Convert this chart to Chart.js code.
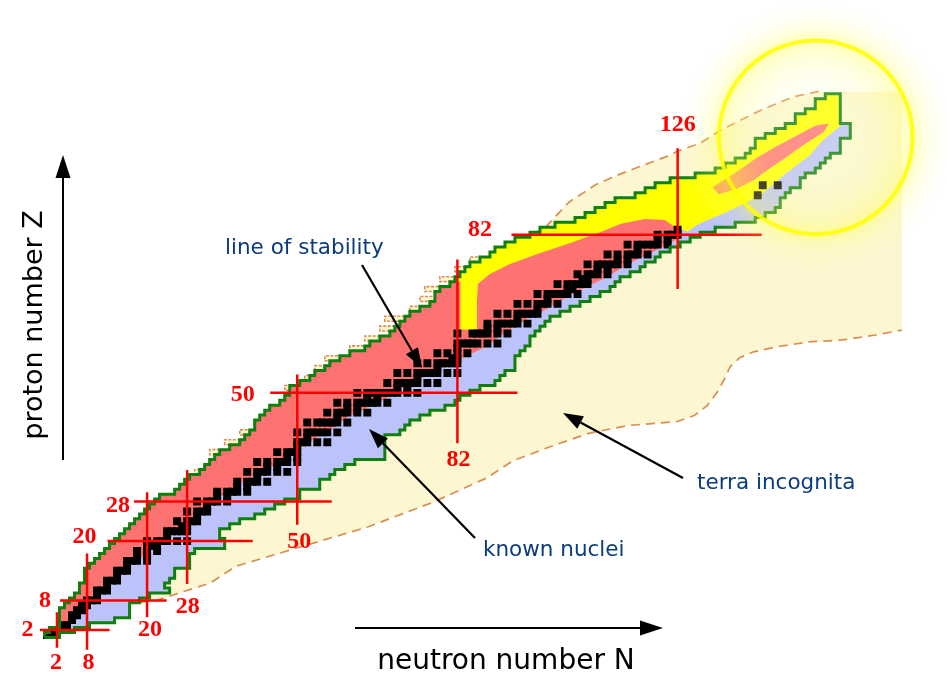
<!DOCTYPE html>
<html>
<head>
<meta charset="utf-8">
<title>Chart of nuclides</title>
<script src="https://cdn.jsdelivr.net/npm/chart.js@4.4.1/dist/chart.umd.min.js"></script>
<style>
  html, body { margin: 0; padding: 0; background: #ffffff; }
  #wrap { width: 947px; height: 678px; }
  canvas { display: block; }
</style>
</head>
<body>
<div id="wrap"><canvas id="chart" width="947" height="678" style="width:947px;height:678px"></canvas></div>
<script>
// ---------------------------------------------------------------------------
// Chart of nuclides: neutron number N along x, proton number Z along y.
// ---------------------------------------------------------------------------

// Rows run from Z = 1 to Z = 110.
const FIRST_Z = 1;

// Lightest known isotope of each element (smallest N), Z = 1 ... 110
const knownMinN = [
  0, 1, 3, 3, 3, 3, 4, 5, 6, 7,
  7, 8, 8, 8, 9, 10, 11, 12, 13, 14,
  15, 16, 17, 18, 19, 20, 21, 22, 23, 26,
  27, 28, 29, 31, 32, 33, 34, 35, 37, 39,
  40, 41, 42, 42, 43, 44, 45, 47, 48, 49,
  49, 51, 53, 54, 56, 57, 59, 61, 64, 65,
  67, 69, 70, 71, 72, 73, 75, 77, 78, 78,
  79, 81, 82, 83, 84, 85, 87, 89, 90, 92,
  94, 97, 99, 102, 106, 108, 110, 112, 114, 118,
  120, 122, 125, 130, 134, 136, 138, 140, 141, 142,
  142, 144, 146, 148, 150, 150, 152, 154, 154, 156
];

// Heaviest known isotope of each element (largest N), Z = 1 ... 110
const knownMaxN = [
  2, 5, 8, 13, 16, 16, 16, 18, 20, 24,
  23, 24, 25, 25, 28, 28, 28, 29, 35, 35,
  34, 34, 36, 38, 41, 43, 45, 47, 50, 50,
  54, 54, 56, 57, 59, 61, 67, 67, 67, 67,
  67, 70, 71, 72, 74, 76, 79, 81, 82, 84,
  86, 89, 90, 91, 93, 93, 93, 94, 95, 96,
  96, 97, 98, 99, 100, 102, 104, 106, 108, 110,
  112, 113, 114, 116, 118, 119, 121, 122, 124, 126,
  128, 130, 133, 137, 141, 143, 145, 146, 146, 147,
  148, 150, 150, 151, 153, 154, 155, 156, 158, 158,
  158, 160, 160, 160, 158, 158, 158, 158, 158, 158
];

// Rows where the predicted proton drip line lies beyond the known nuclei,
// and by how many neutrons
const dripRowsZ  = [34, 38, 40, 42, 51, 53, 55, 57, 59, 61, 63, 65, 67, 69, 71, 73, 75, 77];
const dripExtraN = [ 1,  2,  3,  2,  1,  1,  2,  3,  3,  3,  3,  4,  2,  3,  3,  3,  2,  2];

// Stable and primordial nuclides: element Z and its stable neutron numbers
const stableZ = [
  1, 2, 3, 4, 5, 6, 7, 8, 9, 10,
  11, 12, 13, 14, 15, 16, 17, 18, 19, 20,
  21, 22, 23, 24, 25, 26, 27, 28, 29, 30,
  31, 32, 33, 34, 35, 36, 37, 38, 39, 40,
  41, 42, 44, 45, 46, 47, 48, 49, 50, 51,
  52, 53, 54, 55, 56, 57, 58, 59, 60, 62,
  63, 64, 65, 66, 67, 68, 69, 70, 71, 72,
  73, 74, 75, 76, 77, 78, 79, 80, 81, 82,
  83, 90, 92
];
const stableN = [
  [0, 1], [1, 2], [3, 4], [5], [5, 6], [6, 7], [7, 8], [8, 9, 10], [10], [10, 11, 12],
  [12], [12, 13, 14], [14], [14, 15, 16], [16], [16, 17, 18, 20], [18, 20], [18, 20, 22], [20, 21, 22], [20, 22, 23, 24, 26, 28],
  [24], [24, 25, 26, 27, 28], [27, 28], [26, 28, 29, 30], [30], [28, 30, 31, 32], [32], [30, 32, 33, 34, 36], [34, 36], [34, 36, 37, 38, 40],
  [38, 40], [38, 40, 41, 42, 44], [42], [40, 42, 43, 44, 46, 48], [44, 46], [42, 44, 46, 47, 48, 50], [48, 50], [46, 48, 49, 50], [50], [50, 51, 52, 54, 56],
  [52], [50, 52, 53, 54, 55, 56, 58], [52, 54, 55, 56, 57, 58, 60], [58], [56, 58, 59, 60, 62, 64], [60, 62], [58, 60, 62, 63, 64, 65, 66, 68], [64, 66], [62, 64, 65, 66, 67, 68, 69, 70, 72, 74], [70, 72],
  [68, 70, 71, 72, 73, 74, 76, 78], [74], [70, 72, 74, 75, 76, 77, 78, 80, 82], [78], [74, 76, 78, 79, 80, 81, 82], [81, 82], [78, 80, 82, 84], [82], [82, 83, 84, 85, 86, 88, 90], [82, 85, 86, 87, 88, 90, 92],
  [88, 90], [88, 90, 91, 92, 93, 94, 96], [94], [90, 92, 94, 95, 96, 97, 98], [98], [94, 96, 98, 99, 100, 102], [100], [98, 100, 101, 102, 103, 104, 106], [104, 105], [102, 104, 105, 106, 107, 108],
  [107, 108], [106, 108, 109, 110, 112], [110, 112], [108, 110, 111, 112, 113, 114, 116], [114, 116], [112, 114, 116, 117, 118, 120], [118], [116, 118, 119, 120, 121, 122, 124], [122, 124], [122, 124, 125, 126],
  [126], [142], [143, 146]
];

// Border between proton-rich (β+) and neutron-rich (β−) nuclei along the valley
const valleyN = [126.5, 124, 120, 116, 112, 108, 104, 100, 96, 92, 88, 84, 80, 76, 72, 68, 64, 60, 56, 52, 48, 44, 40, 36, 32, 28, 24, 20, 16, 12, 8.5, 5.5, 2.5, 0.5];
const valleyZ = [81.5, 80, 78, 76, 73.5, 71.5, 69.5, 67, 65, 62.5, 59.5, 57.5, 55.5, 53.5, 51.5, 49, 47, 45, 42, 40, 36.5, 34.5, 32.5, 30, 27, 24, 21, 17.5, 14.5, 10.5, 7.5, 4.5, 1.5, 0.5];

// Alpha-decay (heavy) region: border towards the β− side beyond N = 126
const alphaBetaN = [158.5, 155, 152.2, 147.7, 142.4, 135.8, 132.5, 129.9, 128];
const alphaBetaZ = [104, 101.1, 97.9, 94.5, 89.9, 86.6, 85.2, 84, 82.6];
// Alpha-decay region: lower border towards the β+ side
const alphaLowN = [125.4, 123.4, 119.5, 114.7, 110.8, 104.3, 97.7, 92.4, 88.4, 86.1, 85.9, 85.9, 82.6, 82.6];
const alphaLowZ = [83.6, 85, 85.2, 84.2, 82.6, 80.2, 78, 76, 74, 72, 68.1, 62.7, 62.8, 72.5];

// Fission band inside the superheavy region
const fissionN = [133.0, 138.2, 141.6, 145.6, 150.2, 153.6, 156.2, 155.2, 151.2, 147.2, 143.8, 141.2, 137.6, 134.2];
const fissionZ = [91.6, 95.0, 97.4, 99.8, 102.3, 104.1, 104.5, 102.8, 100.2, 97.3, 95.0, 93.0, 91.2, 90.2];

// Terra incognita: neutron-rich limit and the limit above the heavy nuclei
const terraLowN = [18.6, 21.9, 26.7, 32.6, 37.7, 50.9, 64.2, 77.2, 87.9, 93, 99.7, 108.2, 116.1, 126, 129.3, 131.9, 133.9, 135.3, 136.5, 138.4, 141.2, 145.7, 152.2, 158.9, 165.5, 170.8];
const terraLowZ = [7.6, 8, 9.6, 11.5, 14.9, 18.9, 22.9, 27.9, 32.8, 36.2, 38.8, 41.8, 43.4, 44.2, 45.4, 47.4, 50.1, 52.7, 55.3, 57.1, 58.3, 59.3, 60.3, 60.7, 61.7, 62.7];
const terraEdgeN = [170.8, 170.8];
const terraEdgeZ = [62.7, 111];
const terraTopN = [154.2, 149.1, 142.4, 134.5, 130.5, 126, 124, 118.7, 114.1, 109.6, 104.3, 99.3];
const terraTopZ = [111, 109.9, 107.1, 103.1, 100.5, 98.9, 97.9, 95.9, 94.1, 92.1, 88.6, 83.2];

// Magic numbers and the stretch each marker line covers
const magicN = [2, 8, 20, 28, 50, 82, 126];
const magicNSpanZ = [[-1.6, 5.6], [-2, 17.5], [4.6, 29.9], [11.3, 34.4], [23.3, 53.7], [39.8, 77], [71, 99.5]];
const magicZ = [2, 8, 20, 28, 50, 82];
const magicZSpanN = [[-1.4, 12.5], [2.6, 23.9], [12.1, 41.1], [17.4, 56.9], [44.6, 94], [92.8, 142.8]];

// ---------------------------------------------------------------------------
// Layout (label anchors in N/Z units, annotation geometry in pixels)
// ---------------------------------------------------------------------------
const magicNLabelAt = [[1.8, -4.6], [8.3, -4.6], [20.6, 2], [28.1, 6.8], [50.4, 19.9], [82.2, 36.4], [126, 104.3]];
const magicZLabelAt = [[-3.9, 2], [-0.4, 8], [7.5, 20.9], [14.2, 27.1], [39.1, 49.6], [86.5, 83]];
const glowCenter = [153.6, 101.7];
const glowRadiusN = 19.35;
const notes = [
  { text: 'line of stability', x: 225, y: 254, from: [362, 265], to: [422, 368] },
  { text: 'known nuclei',      x: 483, y: 556, from: [475, 538], to: [369, 429] },
  { text: 'terra incognita',   x: 697, y: 489, from: [683, 478], to: [563, 413] }
];

const COLORS = {
  terra: '#fcf7d1',
  dashed: '#d98e52',
  betaMinus: '#bcc2fa',
  betaPlus: '#ff7272',
  alpha: '#ffff00',
  outline: '#0f7f0f',
  magic: '#ff0000',
  note: '#0b3d7c'
};

// ---------------------------------------------------------------------------
// Geometry helpers
// ---------------------------------------------------------------------------
const zip = (ns, zs) => ns.map((n, i) => ({ x: n, y: zs[i] }));

// Left (proton-rich) staircase edge, ascending in Z
function leftSteps(arr, zFrom, zTo) {
  const pts = [];
  for (let z = zFrom; z <= zTo; z++) {
    const n = arr[z - FIRST_Z] - 0.5;
    pts.push({ x: n, y: z - 0.5 }, { x: n, y: z + 0.5 });
  }
  return pts;
}
// Right (neutron-rich) staircase edge, descending in Z
function rightSteps(arr, zFrom, zTo) {
  const pts = [];
  for (let z = zFrom; z >= zTo; z--) {
    const n = arr[z - FIRST_Z] + 0.5;
    pts.push({ x: n, y: z + 0.5 }, { x: n, y: z - 0.5 });
  }
  return pts;
}
const closed = pts => pts.concat([pts[0]]);

const LAST_Z = FIRST_Z + knownMinN.length - 1;

const dripN = knownMinN.slice();
dripRowsZ.forEach((z, i) => { dripN[z - FIRST_Z] -= dripExtraN[i]; });

const knownShape = closed([...leftSteps(knownMinN, FIRST_Z, LAST_Z), ...rightSteps(knownMaxN, LAST_Z, FIRST_Z)]);
const betaPlusShape = closed([
  ...leftSteps(knownMinN, FIRST_Z, 86),
  { x: 124, y: 86.5 }, { x: 126.5, y: 84 },
  ...zip(valleyN, valleyZ)
]);
const alphaShape = closed([
  ...leftSteps(knownMinN, 73, LAST_Z),
  ...rightSteps(knownMaxN, LAST_Z, 105),
  ...zip(alphaBetaN, alphaBetaZ),
  ...zip(alphaLowN, alphaLowZ)
]);
const fissionShape = closed(zip(fissionN, fissionZ));
const terraShape = closed([
  ...zip(terraLowN, terraLowZ),
  ...zip(terraEdgeN, terraEdgeZ),
  ...zip(terraTopN, terraTopZ)
]);
const dripSteps = leftSteps(dripN, 8, 83);
const dripShape = closed(dripSteps);

const stablePoints = [];
stableZ.forEach((z, i) => stableN[i].forEach(n => stablePoints.push({ x: n, y: z })));

// ---------------------------------------------------------------------------
// Datasets (higher "order" is drawn further below)
// ---------------------------------------------------------------------------
const area = (label, data, color, order) => ({
  label, data, order, fill: 'shape', backgroundColor: color,
  borderColor: 'rgba(0,0,0,0)', borderWidth: 0,
  pointRadius: 0, pointHoverRadius: 0, pointHitRadius: 0, tension: 0
});
const stroke = (label, data, color, width, order, extra) => Object.assign({
  label, data, order, fill: false, borderColor: color, borderWidth: width,
  backgroundColor: 'rgba(0,0,0,0)',
  pointRadius: 0, pointHoverRadius: 0, pointHitRadius: 0, tension: 0
}, extra || {});

// orange-to-pink shading of the fission band, left to right
const fissionFill = (c) => {
  const chart = c.chart;
  const sx = chart.scales && chart.scales.x;
  const fallback = '#ff7b7b';
  if (!sx) return fallback;
  const x0 = sx.getPixelForValue(133), x1 = sx.getPixelForValue(144);
  if (!isFinite(x0) || !isFinite(x1) || x0 === x1) return fallback;
  const g = chart.ctx.createLinearGradient(x0, 0, x1, 0);
  g.addColorStop(0, '#f7a050');
  g.addColorStop(1, '#ff7676');
  return g;
};

const datasets = [
  area('terra incognita', terraShape, COLORS.terra, 100),
  area('proton drip', dripShape, COLORS.terra, 99),
  stroke('terra limit (neutron side)', zip(terraLowN, terraLowZ), COLORS.dashed, 1.7, 98, { borderDash: [9, 6] }),
  stroke('terra limit (heavy side)', zip(terraTopN, terraTopZ), COLORS.dashed, 1.7, 97, { borderDash: [9, 6] }),
  stroke('proton drip line', dripSteps, COLORS.dashed, 1.6, 96, { borderDash: [3, 1.5] }),
  area('known nuclei', knownShape, COLORS.betaMinus, 90),
  area('proton rich', betaPlusShape, COLORS.betaPlus, 80),
  area('alpha decay', alphaShape, COLORS.alpha, 70),
  Object.assign(area('fission', fissionShape, COLORS.betaPlus, 60), { backgroundColor: fissionFill }),
  {
    label: 'stable nuclei', data: stablePoints, order: 50, showLine: false,
    pointStyle: 'rect', pointRadius: 5.6, pointHoverRadius: 5.6, pointHitRadius: 0,
    pointBackgroundColor: '#000000', pointBorderWidth: 0, pointBorderColor: 'rgba(0,0,0,0)'
  },
  stroke('limit of known nuclei', knownShape, COLORS.outline, 3, 40, { borderJoinStyle: 'miter' })
];

magicN.forEach((m, i) => {
  datasets.push(stroke('N = ' + m, [{ x: m, y: magicNSpanZ[i][0] }, { x: m, y: magicNSpanZ[i][1] }], COLORS.magic, 2.5, 30));
});
magicZ.forEach((m, i) => {
  datasets.push(stroke('Z = ' + m, [{ x: magicZSpanN[i][0], y: m }, { x: magicZSpanN[i][1], y: m }], COLORS.magic, 2.5, 30));
});

// ---------------------------------------------------------------------------
// Overlay: glow around the superheavy island, labels and arrows
// ---------------------------------------------------------------------------
function arrow(ctx, x0, y0, x1, y1, headLen, headHalf, width) {
  const a = Math.atan2(y1 - y0, x1 - x0);
  const bx = x1 - headLen * Math.cos(a), by = y1 - headLen * Math.sin(a);
  ctx.lineWidth = width;
  ctx.beginPath();
  ctx.moveTo(x0, y0);
  ctx.lineTo(bx, by);
  ctx.stroke();
  ctx.beginPath();
  ctx.moveTo(x1, y1);
  ctx.lineTo(bx + headHalf * Math.sin(a), by - headHalf * Math.cos(a));
  ctx.lineTo(bx - headHalf * Math.sin(a), by + headHalf * Math.cos(a));
  ctx.closePath();
  ctx.fill();
}

const overlay = {
  id: 'overlay',
  afterDatasetsDraw(chart) {
    const { ctx } = chart;
    const sx = chart.scales.x, sy = chart.scales.y;
    const px = n => sx.getPixelForValue(n), py = z => sy.getPixelForValue(z);
    ctx.save();

    // soft glow around the island of stability
    const cx = px(glowCenter[0]), cy = py(glowCenter[1]);
    const R = px(glowCenter[0] + glowRadiusN) - cx;
    const outer = R * 1.4;
    const g = ctx.createRadialGradient(cx, cy, 0, cx, cy, outer);
    const k = R / outer;
    g.addColorStop(0, 'rgba(255,255,235,0.18)');
    g.addColorStop(k * 0.6, 'rgba(255,255,190,0.22)');
    g.addColorStop(k * 0.9, 'rgba(255,255,110,0.33)');
    g.addColorStop(k, 'rgba(255,255,60,0.4)');
    g.addColorStop(k + (1 - k) * 0.3, 'rgba(255,255,120,0.22)');
    g.addColorStop(1, 'rgba(255,255,200,0)');
    ctx.fillStyle = g;
    ctx.beginPath();
    ctx.arc(cx, cy, outer, 0, Math.PI * 2);
    ctx.fill();
    ctx.strokeStyle = 'rgba(255,255,0,0.85)';
    ctx.lineWidth = 4;
    ctx.beginPath();
    ctx.arc(cx, cy, R, 0, Math.PI * 2);
    ctx.stroke();

    // magic-number labels
    ctx.fillStyle = COLORS.magic;
    ctx.font = 'bold 24px "Liberation Serif", "Times New Roman", serif';
    ctx.textAlign = 'center';
    ctx.textBaseline = 'middle';
    magicN.forEach((m, i) => ctx.fillText(String(m), px(magicNLabelAt[i][0]), py(magicNLabelAt[i][1])));
    magicZ.forEach((m, i) => ctx.fillText(String(m), px(magicZLabelAt[i][0]), py(magicZLabelAt[i][1])));

    // annotations
    ctx.fillStyle = '#000000';
    ctx.strokeStyle = '#000000';
    ctx.lineCap = 'butt';
    notes.forEach(nt => arrow(ctx, nt.from[0], nt.from[1], nt.to[0], nt.to[1], 20, 7, 2.2));
    ctx.fillStyle = COLORS.note;
    ctx.font = '21.5px "DejaVu Sans", Verdana, sans-serif';
    ctx.textAlign = 'left';
    ctx.textBaseline = 'alphabetic';
    notes.forEach(nt => ctx.fillText(nt.text, nt.x, nt.y));

    // axis arrows and titles
    ctx.fillStyle = '#000000';
    arrow(ctx, 63, 460, 63, 155, 23, 7.5, 2);
    arrow(ctx, 355, 628, 663, 628, 23, 7.5, 2);
    ctx.font = '28px "DejaVu Sans", Verdana, sans-serif';
    ctx.textAlign = 'center';
    ctx.fillText('neutron number N', 506, 669);
    ctx.save();
    ctx.translate(42, 325);
    ctx.rotate(-Math.PI / 2);
    ctx.font = '27px "DejaVu Sans", Verdana, sans-serif';
    ctx.fillText('proton number Z', 0, 0);
    ctx.restore();

    ctx.restore();
  }
};

const chart = new Chart(document.getElementById('chart'), {
  type: 'line',
  data: { datasets },
  options: {
    responsive: false,
    animation: false,
    events: [],
    layout: { padding: 0 },
    plugins: { legend: { display: false }, tooltip: { enabled: false }, title: { display: false } },
    scales: {
      x: { type: 'linear', min: -8.27, max: 178.7, display: false },
      y: { type: 'linear', min: -6.57, max: 128.36, display: false }
    }
  },
  plugins: [overlay]
});
// second pass so the gradient fill sees laid-out scales
chart.update();
</script>
</body>
</html>
